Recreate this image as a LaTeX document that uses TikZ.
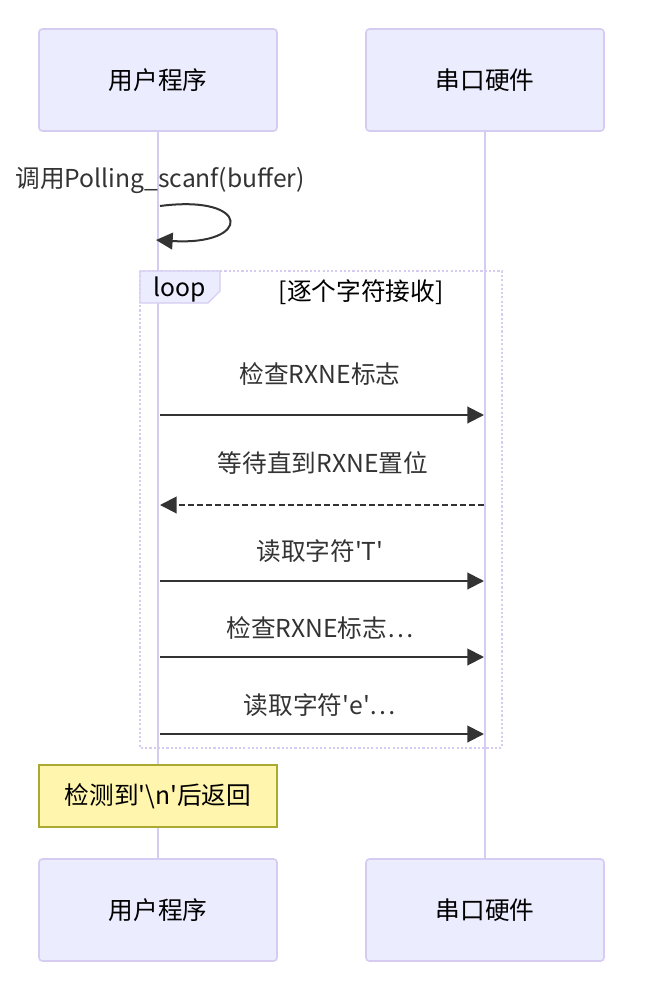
\documentclass[tikz,border=0pt]{standalone}
\usepackage{fontspec}
\setmainfont{Noto Sans CJK SC}
\usetikzlibrary{arrows.meta}
\definecolor{actfill}{HTML}{ECECFF}
\definecolor{actline}{HTML}{D6CCF2}
\definecolor{ink}{HTML}{333333}
\definecolor{notefill}{HTML}{FFF5AD}
\definecolor{noteline}{HTML}{AAAA33}
\newcommand{\fs}{\fontsize{18.5}{21}\selectfont}
\newcommand{\q}{\textquotesingle}
\tikzset{
  actor/.style={draw=actline, fill=actfill, line width=1.2pt, rounded corners=2.5pt,
    minimum width=178.5pt, minimum height=76.5pt, inner sep=0pt, font=\fs, text=black},
  lifeline/.style={draw=actline, line width=2.2pt},
  msg/.style={draw=ink, line width=1.5pt, -{Triangle[length=12.5pt,width=12.5pt]}},
  msgtext/.style={font=\fs, text=ink, inner sep=0pt},
  notebox/.style={draw=noteline, fill=notefill, line width=0.9pt,
    minimum width=178.5pt, minimum height=46.5pt, inner sep=0pt, font=\fs, text=black},
  loopframe/.style={draw=actline, line width=1.8pt, dash pattern=on 1.6pt off 1.6pt},
}
\begin{document}
\begin{tikzpicture}[x=0.75pt,y=-0.75pt]
\useasboundingbox (0,0) rectangle (664,996);
% actors
\node[actor] (ut) at (158,80) {用户程序};
\node[actor] (st) at (485,80) {串口硬件};
\node[actor] (ub) at (158,910) {用户程序};
\node[actor] (sb) at (485,910) {串口硬件};
\draw[lifeline] (ut.south) -- (ub.north);
\draw[lifeline] (st.south) -- (sb.north);

% self message
\node[msgtext] (selft) at (160,180) {调用Polling\_scanf(buffer)};
\coordinate (s1) at (160,206);
\coordinate (s2) at (156,240);
\draw[msg] (s1) .. controls (252,194) and (252,246) .. (s2);

% loop frame
\draw[loopframe] (140,271) rectangle (502,748);
\draw[draw=actline, fill=actfill, line width=1pt] (140,271) -- (220,271) -- (220,291) -- (208,303) -- (140,303) -- cycle;
\node[msgtext, text=black] (looplbl) at (180,290) {loop};
\node[msgtext, text=black] (looptitle) at (361,292) {[逐个字符接收]};

% messages
\node[msgtext] (t1) at (320,374) {检查RXNE标志};
\coordinate (a1) at (160,415); \coordinate (b1) at (484,415);
\draw[msg] (a1) -- (b1);

\node[msgtext] (t2) at (323,463) {等待直到RXNE置位};
\coordinate (a2) at (484,505); \coordinate (b2) at (160,505);
\draw[msg, dash pattern=on 4.5pt off 2.3pt] (a2) -- (b2);

\node[msgtext] (t3) at (320,551) {读取字符\q T\q};
\coordinate (a3) at (160,581); \coordinate (b3) at (484,581);
\draw[msg] (a3) -- (b3);

\node[msgtext] (t4) at (320,628) {检查RXNE标志…};
\coordinate (a4) at (160,657); \coordinate (b4) at (484,657);
\draw[msg] (a4) -- (b4);

\node[msgtext] (t5) at (320,705) {读取字符\q e\q…};
\coordinate (a5) at (160,734); \coordinate (b5) at (484,734);
\draw[msg] (a5) -- (b5);

% note
\node[notebox] (note) at (158,796) {检测到\q\textbackslash n\q 后返回};
\end{tikzpicture}
\end{document}
